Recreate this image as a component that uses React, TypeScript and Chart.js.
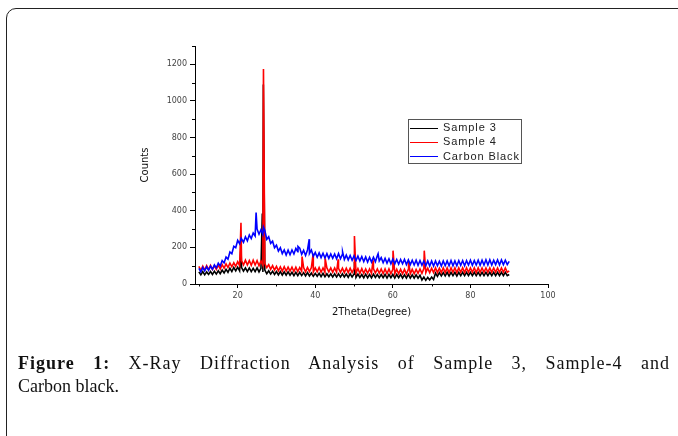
import { useEffect, useRef } from 'react';
import { Chart, registerables } from 'chart.js';

Chart.register(...registerables);

// X-ray diffraction scan: 2θ from 10° to 90° in 0.5° steps
const scanStart = 10;
const scanStep = 0.5;

const seriesLabels = ['Sample 3', 'Sample 4', 'Carbon Black'];
const seriesColors = ['#000000', '#ff0000', '#0000ff'];

// Sample 3 (black) background counts
const sample3Counts = [
  66, 50, 68, 50, 66, 52, 68, 52, 70, 54,
  72, 56, 76, 60, 80, 64, 86, 68, 90, 72,
  92, 72, 90, 70, 88, 68, 88, 68, 86, 68,
  88, 66, 86, 66, 76, 56, 72, 54, 70, 52,
  68, 50, 68, 48, 66, 48, 66, 48, 64, 46,
  64, 46, 64, 46, 62, 44, 62, 44, 60, 42,
  58, 42, 58, 40, 58, 40, 56, 40, 56, 38,
  56, 38, 56, 38, 56, 38, 54, 36, 56, 38,
  54, 36, 54, 36, 52, 34, 54, 34, 52, 34,
  54, 36, 52, 34, 52, 34, 52, 32, 52, 34,
  52, 32, 52, 34, 52, 32, 50, 32, 52, 32,
  50, 32, 50, 32, 48, 22, 38, 20, 36, 22,
  38, 24, 60, 42, 62, 44, 62, 44, 64, 44,
  64, 46, 64, 44, 64, 46, 64, 46, 64, 46,
  64, 46, 64, 46, 64, 46, 64, 46, 64, 46,
  64, 46, 64, 46, 64, 46, 64, 46, 64, 46,
  52,
];
const sample3PeakTheta = [20.85, 26.35, 26.62, 50.1];
const sample3PeakCounts = [200, 385, 1090, 120];

// Sample 4 (red) background counts
const sample4Counts = [
  96, 74, 98, 76, 100, 78, 102, 80, 100, 80,
  104, 82, 106, 86, 110, 90, 114, 94, 116, 96,
  122, 100, 128, 104, 130, 104, 128, 102, 130, 104,
  128, 100, 126, 102, 112, 90, 106, 80, 100, 76,
  96, 72, 94, 70, 94, 70, 92, 70, 92, 68,
  92, 68, 90, 70, 90, 66, 90, 68, 90, 66,
  88, 66, 90, 64, 88, 64, 88, 66, 88, 64,
  88, 64, 86, 64, 86, 62, 86, 62, 86, 62,
  84, 60, 84, 58, 84, 58, 82, 58, 82, 58,
  84, 60, 82, 58, 82, 56, 82, 56, 82, 56,
  80, 56, 80, 56, 80, 56, 80, 54, 80, 56,
  80, 56, 80, 58, 82, 58, 84, 62, 86, 62,
  86, 62, 88, 62, 86, 62, 88, 62, 88, 62,
  88, 64, 88, 62, 88, 64, 88, 62, 88, 64,
  88, 64, 88, 62, 88, 64, 88, 64, 88, 64,
  88, 64, 88, 64, 88, 64, 88, 64, 88, 64,
  72,
];
const sample4PeakTheta = [20.85, 26.65, 36.6, 39.45, 42.55, 45.9, 50.1, 54.9, 60.05, 64.05, 68.1];
const sample4PeakCounts = [335, 1175, 150, 165, 140, 135, 262, 130, 182, 125, 182];

// Carbon Black (blue) background counts
const carbonBlackCounts = [
  85, 66, 90, 72, 94, 75, 97, 80, 104, 88,
  114, 98, 128, 115, 147, 136, 175, 165, 206, 198,
  238, 220, 250, 228, 258, 236, 268, 248, 278, 262,
  300, 272, 296, 270, 292, 244, 258, 222, 234, 198,
  212, 180, 198, 166, 186, 158, 185, 160, 186, 164,
  194, 176, 196, 162, 184, 156, 186, 166, 186, 152,
  172, 146, 170, 144, 168, 142, 166, 140, 164, 140,
  164, 138, 166, 138, 162, 134, 158, 132, 156, 130,
  154, 128, 152, 126, 150, 122, 148, 120, 146, 120,
  146, 122, 154, 126, 144, 116, 140, 114, 138, 110,
  136, 110, 134, 108, 134, 110, 134, 106, 132, 106,
  130, 104, 130, 102, 128, 102, 126, 100, 126, 98,
  126, 98, 126, 100, 124, 98, 126, 100, 126, 100,
  128, 100, 126, 100, 128, 102, 128, 100, 128, 104,
  130, 102, 128, 104, 130, 102, 130, 104, 132, 104,
  132, 104, 130, 106, 132, 104, 132, 106, 130, 106,
  124,
];
const carbonBlackPeakTheta = [20.9, 24.75, 26.65, 35.55, 38.45, 47.05, 56.2];
const carbonBlackPeakCounts = [250, 390, 310, 205, 245, 175, 165];

const xMinorTicks = [10, 30, 50, 70, 90];
const yMinorTicks = [100, 300, 500, 700, 900, 1100, 1300];

function buildSeries(counts: number[], peakTheta: number[], peakCounts: number[]) {
  const pts = counts.map((c, i) => ({ x: scanStart + i * scanStep, y: c }));
  peakTheta.forEach((t, i) => pts.push({ x: t, y: peakCounts[i] }));
  pts.sort((a, b) => a.x - b.x);
  return pts;
}

const overlayPlugin = {
  id: 'overlay',
  afterDraw(chart: any) {
    const { ctx, chartArea } = chart;
    const xs = chart.scales.x;
    const ys = chart.scales.y;
    ctx.save();
    ctx.strokeStyle = '#000';
    ctx.lineWidth = 1;
    ctx.beginPath();
    for (const v of xMinorTicks) {
      const px = Math.round(xs.getPixelForValue(v)) + 0.5;
      ctx.moveTo(px, chartArea.bottom);
      ctx.lineTo(px, chartArea.bottom + 2.5);
    }
    for (const v of yMinorTicks) {
      const py = Math.round(ys.getPixelForValue(v)) + 0.5;
      ctx.moveTo(chartArea.left, py);
      ctx.lineTo(chartArea.left - 3, py);
    }
    // x axis line extends slightly left of the y axis
    ctx.moveTo(chartArea.left - 4, Math.round(chartArea.bottom) + 0.5);
    ctx.lineTo(chartArea.left, Math.round(chartArea.bottom) + 0.5);
    ctx.stroke();

    // legend box
    const lx = 408.5, ly = 119.5, lw = 113, lh = 44;
    ctx.strokeStyle = '#555';
    ctx.lineWidth = 1;
    ctx.strokeRect(lx, ly, lw, lh);
    ctx.font = '11px "Liberation Sans", Arial, sans-serif';
    try { (ctx as any).letterSpacing = '0.9px'; } catch (e) { /* ignore */ }
    ctx.textBaseline = 'middle';
    ctx.textAlign = 'left';
    chart.data.datasets.forEach((ds: any, i: number) => {
      const cy = 127.5 + i * 14.3;
      ctx.strokeStyle = ds.borderColor;
      ctx.lineWidth = 1;
      ctx.beginPath();
      ctx.moveTo(410, Math.round(cy) + 0.5);
      ctx.lineTo(438, Math.round(cy) + 0.5);
      ctx.stroke();
      ctx.fillStyle = '#222';
      ctx.fillText(ds.label, 443, cy + 0.5);
    });
    ctx.restore();
  },
};

export default function App() {
  const ref = useRef<HTMLCanvasElement>(null);

  useEffect(() => {
    const seriesData = [
      buildSeries(sample3Counts, sample3PeakTheta, sample3PeakCounts),
      buildSeries(sample4Counts, sample4PeakTheta, sample4PeakCounts),
      buildSeries(carbonBlackCounts, carbonBlackPeakTheta, carbonBlackPeakCounts),
    ];
    const chart = new Chart(ref.current as HTMLCanvasElement, {
      type: 'line',
      data: {
        datasets: seriesLabels.map((label, i) => ({
          label,
          data: seriesData[i],
          borderColor: seriesColors[i],
          backgroundColor: seriesColors[i],
          borderWidth: 1.6,
          pointRadius: 0,
          tension: 0,
          order: 2 - i,
        })),
      },
      options: {
        animation: false,
        responsive: false,
        devicePixelRatio: 1,
        events: [],
        layout: { padding: { left: 0, top: 46, right: 130, bottom: 0 } },
        plugins: { legend: { display: false }, tooltip: { enabled: false } },
        scales: {
          x: {
            type: 'linear',
            min: 9,
            max: 100,
            afterFit: (s: any) => { s.height = 152; },
            ticks: {
              stepSize: 10,
              includeBounds: false,
              autoSkip: false,
              maxRotation: 0,
              padding: 3,
              color: '#444',
              font: { family: 'DejaVu Sans', size: 8 },
              callback: (v: any) => (Number(v) % 20 === 0 ? String(v) : ''),
            },
            grid: {
              drawOnChartArea: false,
              tickLength: 4,
              tickColor: (c: any) => (c.tick && c.tick.value % 20 === 0 ? '#000' : 'rgba(0,0,0,0)'),
            },
            border: { color: '#000', width: 1 },
            title: {
              display: true,
              text: '2Theta(Degree)',
              color: '#111',
              font: { family: 'DejaVu Sans', size: 10 },
              padding: { top: 0, bottom: 118 },
            },
          },
          y: {
            type: 'linear',
            min: 0,
            max: 1300,
            afterFit: (s: any) => { s.width = 195; },
            ticks: {
              stepSize: 100,
              autoSkip: false,
              padding: 3,
              color: '#444',
              font: { family: 'DejaVu Sans', size: 8 },
              callback: (v: any) => (Number(v) % 200 === 0 ? String(v) : ''),
            },
            grid: {
              drawOnChartArea: false,
              tickLength: 5,
              tickColor: (c: any) => (c.tick && c.tick.value % 200 === 0 ? '#000' : 'rgba(0,0,0,0)'),
            },
            border: { color: '#000', width: 1 },
            title: {
              display: true,
              text: 'Counts',
              color: '#111',
              font: { family: 'DejaVu Sans', size: 10 },
              padding: { top: 139, bottom: 0 },
            },
          },
        },
      },
      plugins: [overlayPlugin],
    });
    return () => chart.destroy();
  }, []);

  return (
    <div
      style={{
        position: 'fixed',
        left: 0,
        top: 0,
        width: 678,
        height: 436,
        overflow: 'hidden',
        background: '#fff',
      }}
    >
      <div
        style={{
          position: 'absolute',
          left: 6,
          top: 8,
          width: 730,
          height: 480,
          border: '1.5px solid #222',
          borderRadius: 10,
          boxSizing: 'border-box',
        }}
      />
      <canvas
        ref={ref}
        width={678}
        height={436}
        style={{ position: 'absolute', left: 0, top: 0 }}
      />
      <div
        style={{
          position: 'absolute',
          left: 18,
          top: 352,
          width: 651,
          fontFamily: '"Liberation Serif", serif',
          fontSize: 18,
          lineHeight: '23px',
          color: '#111',
        }}
      >
        <div style={{ textAlign: 'justify', textAlignLast: 'justify', letterSpacing: '1px', marginRight: -1 }}>
          <b>Figure 1:</b> X-Ray Diffraction Analysis of Sample 3, Sample-4 and
        </div>
        <div>Carbon black.</div>
      </div>
    </div>
  );
}
